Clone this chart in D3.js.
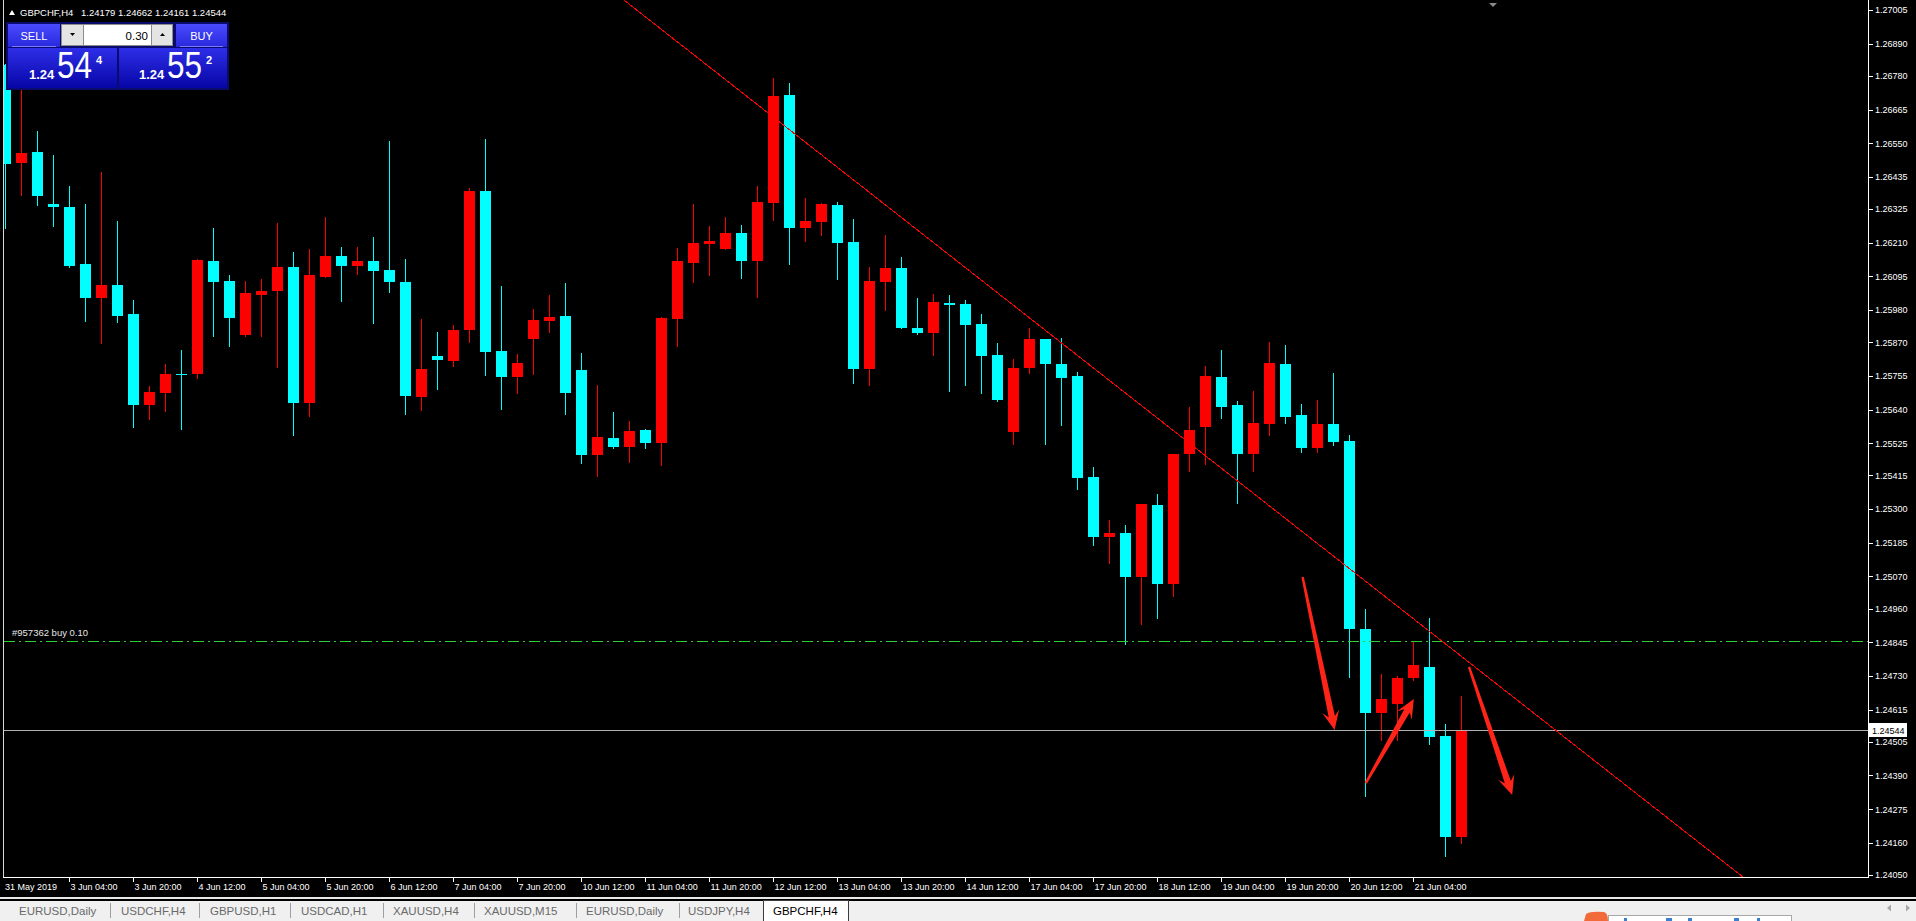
<!DOCTYPE html>
<html><head><meta charset="utf-8">
<script src="https://cdn.jsdelivr.net/npm/d3@7"></script>
<style>
html,body{margin:0;padding:0;background:#000;overflow:hidden}
svg{display:block}
text{font-family:"Liberation Sans",Arial,sans-serif}
</style></head><body>
<svg id="c" width="1916" height="921"></svg>
<script>
// ---------------- DATA ----------------
const symbolTitle = "GBPCHF,H4";
const times = [
"2019.05.31 12:00","2019.05.31 16:00","2019.05.31 20:00",
"2019.06.03 00:00","2019.06.03 04:00","2019.06.03 08:00","2019.06.03 12:00","2019.06.03 16:00","2019.06.03 20:00",
"2019.06.04 00:00","2019.06.04 04:00","2019.06.04 08:00","2019.06.04 12:00","2019.06.04 16:00","2019.06.04 20:00",
"2019.06.05 00:00","2019.06.05 04:00","2019.06.05 08:00","2019.06.05 12:00","2019.06.05 16:00","2019.06.05 20:00",
"2019.06.06 00:00","2019.06.06 04:00","2019.06.06 08:00","2019.06.06 12:00","2019.06.06 16:00","2019.06.06 20:00",
"2019.06.07 00:00","2019.06.07 04:00","2019.06.07 08:00","2019.06.07 12:00","2019.06.07 16:00","2019.06.07 20:00",
"2019.06.10 00:00","2019.06.10 04:00","2019.06.10 08:00","2019.06.10 12:00","2019.06.10 16:00","2019.06.10 20:00",
"2019.06.11 00:00","2019.06.11 04:00","2019.06.11 08:00","2019.06.11 12:00","2019.06.11 16:00","2019.06.11 20:00",
"2019.06.12 00:00","2019.06.12 04:00","2019.06.12 08:00","2019.06.12 12:00","2019.06.12 16:00","2019.06.12 20:00",
"2019.06.13 00:00","2019.06.13 04:00","2019.06.13 08:00","2019.06.13 12:00","2019.06.13 16:00","2019.06.13 20:00",
"2019.06.14 00:00","2019.06.14 04:00","2019.06.14 08:00","2019.06.14 12:00","2019.06.14 16:00","2019.06.14 20:00",
"2019.06.17 00:00","2019.06.17 04:00","2019.06.17 08:00","2019.06.17 12:00","2019.06.17 16:00","2019.06.17 20:00",
"2019.06.18 00:00","2019.06.18 04:00","2019.06.18 08:00","2019.06.18 12:00","2019.06.18 16:00","2019.06.18 20:00",
"2019.06.19 00:00","2019.06.19 04:00","2019.06.19 08:00","2019.06.19 12:00","2019.06.19 16:00","2019.06.19 20:00",
"2019.06.20 00:00","2019.06.20 04:00","2019.06.20 08:00","2019.06.20 12:00","2019.06.20 16:00","2019.06.20 20:00",
"2019.06.21 00:00","2019.06.21 04:00","2019.06.21 08:00","2019.06.21 12:00","2019.06.21 16:00"];

const opens = [1.26817,1.26482,1.26520,1.26342,1.26332,1.26137,1.26021,1.26066,1.25967,
1.25656,1.25697,1.25762,1.25762,1.26148,1.26079,1.25895,1.26031,1.26045,1.26127,1.25662,1.26093,
1.26165,1.26130,1.26148,1.26117,1.26076,1.25683,1.25823,1.25806,1.25912,1.26387,1.25840,1.25751,
1.25881,1.25943,1.25960,1.25775,1.25485,1.25543,1.25512,1.25570,1.25526,1.25949,1.26141,1.26206,
1.26189,1.26243,1.26148,1.26346,1.26715,1.26260,1.26281,1.26339,1.26212,1.25779,1.26076,1.26124,
1.25919,1.25902,1.26004,1.26001,1.25932,1.25826,1.25563,1.25782,1.25881,1.25796,1.25755,1.25410,
1.25205,1.25218,1.25068,1.25314,1.25044,1.25488,1.25581,1.25751,1.25656,1.25488,1.25591,1.25796,
1.25621,1.25509,1.25591,1.25533,1.24890,1.24603,1.24634,1.24723,1.24761,1.24525,1.24179];
const highs = [1.26820,1.26732,1.26592,1.26510,1.26404,1.26342,1.26452,1.26284,1.26014,
1.25721,1.25796,1.25844,1.26154,1.26260,1.26100,1.26079,1.26086,1.26277,1.26178,1.26189,1.26298,
1.26195,1.26195,1.26230,1.26557,1.26154,1.25949,1.25905,1.25929,1.26397,1.26564,1.26062,1.25830,
1.25984,1.26031,1.26072,1.25833,1.25724,1.25632,1.25601,1.25574,1.25956,1.26192,1.26342,1.26267,
1.26298,1.26271,1.26404,1.26773,1.26756,1.26363,1.26346,1.26349,1.26291,1.26127,1.26236,1.26161,
1.26021,1.26035,1.26031,1.26014,1.25967,1.25867,1.25813,1.25919,1.25881,1.25885,1.25768,1.25444,
1.25263,1.25246,1.25317,1.25352,1.25488,1.25649,1.25789,1.25844,1.25669,1.25703,1.25871,1.25861,
1.25659,1.25673,1.25765,1.25553,1.24959,1.24737,1.24730,1.24846,1.24928,1.24566,1.24662];
const lows = [1.26260,1.26373,1.26339,1.26267,1.26127,1.25943,1.25867,1.25939,1.25581,
1.25608,1.25635,1.25574,1.25748,1.25891,1.25857,1.25891,1.25891,1.25785,1.25553,1.25618,1.26093,
1.26011,1.26103,1.25936,1.26042,1.25625,1.25638,1.25710,1.25789,1.25871,1.25758,1.25642,1.25697,
1.25762,1.25905,1.25625,1.25458,1.25413,1.25509,1.25461,1.25509,1.25451,1.25857,1.26076,1.26100,
1.26189,1.26090,1.26025,1.26288,1.26137,1.26216,1.26236,1.26086,1.25731,1.25724,1.25980,1.25919,
1.25898,1.25826,1.25703,1.25724,1.25697,1.25669,1.25522,1.25765,1.25522,1.25587,1.25369,1.25177,
1.25116,1.24839,1.24908,1.24928,1.25003,1.25430,1.25454,1.25611,1.25321,1.25430,1.25553,1.25594,
1.25495,1.25495,1.25519,1.24726,1.24320,1.24511,1.24511,1.24716,1.24498,1.24115,1.24161];
const closes = [1.26479,1.26516,1.26370,1.26332,1.26130,1.26021,1.26066,1.25960,1.25656,
1.25700,1.25762,1.25758,1.26151,1.26076,1.25953,1.26038,1.26045,1.26127,1.25662,1.26100,1.26165,
1.26130,1.26148,1.26113,1.26076,1.25686,1.25779,1.25809,1.25912,1.26387,1.25837,1.25751,1.25799,
1.25946,1.25956,1.25697,1.25485,1.25546,1.25512,1.25567,1.25526,1.25953,1.26148,1.26209,1.26216,
1.26243,1.26148,1.26349,1.26711,1.26260,1.26284,1.26342,1.26209,1.25779,1.26079,1.26124,1.25919,
1.25902,1.26008,1.25997,1.25929,1.25823,1.25673,1.25782,1.25881,1.25796,1.25748,1.25406,1.25205,
1.25218,1.25068,1.25317,1.25044,1.25488,1.25570,1.25755,1.25649,1.25488,1.25594,1.25799,1.25615,
1.25509,1.25591,1.25529,1.24890,1.24603,1.24651,1.24723,1.24767,1.24521,1.24179,1.24544];

const priceTicks = [1.27005,1.26890,1.26780,1.26665,1.26550,1.26435,1.26325,1.26210,1.26095,1.25980,
1.25870,1.25755,1.25640,1.25525,1.25415,1.25300,1.25185,1.25070,1.24960,1.24845,1.24730,1.24615,
1.24505,1.24390,1.24275,1.24160,1.24050];
const timeTickKeys = ["2019.06.03 04:00","2019.06.03 20:00","2019.06.04 12:00","2019.06.05 04:00","2019.06.05 20:00",
"2019.06.06 12:00","2019.06.07 04:00","2019.06.07 20:00","2019.06.10 12:00","2019.06.11 04:00","2019.06.11 20:00",
"2019.06.12 12:00","2019.06.13 04:00","2019.06.13 20:00","2019.06.14 12:00","2019.06.17 04:00","2019.06.17 20:00",
"2019.06.18 12:00","2019.06.19 04:00","2019.06.19 20:00","2019.06.20 12:00","2019.06.21 04:00"];
const timeTickLabels = ["3 Jun 04:00","3 Jun 20:00","4 Jun 12:00","5 Jun 04:00","5 Jun 20:00","6 Jun 12:00",
"7 Jun 04:00","7 Jun 20:00","10 Jun 12:00","11 Jun 04:00","11 Jun 20:00","12 Jun 12:00","13 Jun 04:00",
"13 Jun 20:00","14 Jun 12:00","17 Jun 04:00","17 Jun 20:00","18 Jun 12:00","19 Jun 04:00","19 Jun 20:00",
"20 Jun 12:00","21 Jun 04:00"];
const firstDateLabel = "31 May 2019";

const bidPrice = 1.24544;
const askPrice = 1.24552;
const orderPrice = 1.24850;
const orderLabel = "#957362 buy 0.10";
const lotSize = "0.30";
const trendIdx = [48, 91];
const trendPrice = [1.26640, 1.24798];
const arrowStartIdx = [81.1, 85.05, 91.5];
const arrowStartPrice = [1.25068, 1.24364, 1.24761];
const arrowEndIdx = [83.1, 88.05, 94.2];
const arrowEndPrice = [1.24545, 1.24651, 1.24323];
const tabNames = ["EURUSD,Daily","USDCHF,H4","GBPUSD,H1","USDCAD,H1","XAUUSD,H4","XAUUSD,M15","EURUSD,Daily","USDJPY,H4","GBPCHF,H4"];
const activeTab = "GBPCHF,H4";

// ---------------- LAYOUT ----------------
const W = 1916, H = 921;
const plotL = 4, plotR = 1868, plotB = 877;
const tabX = [19,121,210,301,393,484,586,688,773];
const sepX = [110,199,290,383,474,576,679];

const svg = d3.select("#c");
svg.append("rect").attr("width", W).attr("height", H).attr("fill", "#000");
const defs = svg.append("defs");
defs.append("clipPath").attr("id","plotclip").append("rect")
  .attr("x", plotL).attr("y", 0).attr("width", plotR - plotL).attr("height", plotB);

const y = d3.scaleLinear().domain([1.24050, 1.27005]).range([875, 10]);
const xb = d3.scaleBand().domain(times).range([-3, -3 + times.length * 16]);
const cx = t => Math.round(xb(t) + xb.bandwidth() / 2);
const xi = d3.scaleLinear().domain([0, times.length - 1]).range([cx(times[0]), cx(times[times.length - 1])]);

const bars = times.map((t, i) => ({t, o: opens[i], h: highs[i], l: lows[i], c: closes[i]}));
const plot = svg.append("g").attr("clip-path", "url(#plotclip)").attr("shape-rendering", "crispEdges");
const col = d => d.c > d.o ? "#ff0000" : "#00ffff";

// wicks
plot.selectAll("rect.wick").data(bars).join("rect").attr("class","wick")
  .attr("x", d => cx(d.t)).attr("width", 1)
  .attr("y", d => Math.round(y(d.h)))
  .attr("height", d => Math.round(y(d.l)) - Math.round(y(d.h)) + 1)
  .attr("fill", col);
// bodies
plot.selectAll("rect.body").data(bars).join("rect").attr("class","body")
  .attr("x", d => cx(d.t) - 5).attr("width", 11)
  .attr("y", d => Math.round(y(Math.max(d.o, d.c))))
  .attr("height", d => Math.max(1, Math.round(y(Math.min(d.o, d.c))) - Math.round(y(Math.max(d.o, d.c)))))
  .attr("fill", col);

// order line (dash-dot green)
plot.append("line").attr("x1", plotL).attr("x2", plotR)
  .attr("y1", Math.round(y(orderPrice)) + 0.5).attr("y2", Math.round(y(orderPrice)) + 0.5)
  .attr("stroke", "#32cd32").attr("stroke-width", 1).attr("stroke-dasharray", "11,4,2,4");
svg.append("text").attr("x", 12).attr("y", Math.round(y(orderPrice)) - 5)
  .attr("fill", "#e6e6e6").attr("font-size", "9.5px").text(orderLabel);

// bid line
plot.append("line").attr("x1", plotL).attr("x2", plotR)
  .attr("y1", Math.round(y(bidPrice)) + 0.5).attr("y2", Math.round(y(bidPrice)) + 0.5)
  .attr("stroke", "#b0b0b0").attr("stroke-width", 1);

// trend line
{
  const x1 = xi(trendIdx[0]), y1 = y(trendPrice[0]);
  const x2 = xi(trendIdx[1]), y2 = y(trendPrice[1]);
  const m = (y2 - y1) / (x2 - x1);
  const xa = plotL, xbx = plotR;
  plot.append("line").attr("x1", xa).attr("y1", y1 + (xa - x1) * m)
    .attr("x2", xbx).attr("y2", y1 + (xbx - x1) * m)
    .attr("stroke", "#ff0000").attr("stroke-width", 1).attr("shape-rendering", "crispEdges");
}

// arrows
function arrowPoly(sx, sy, ex, ey) {
  const dx = ex - sx, dy = ey - sy, L = Math.hypot(dx, dy);
  const ux = dx / L, uy = dy / L, nx = -uy, ny = ux;
  const hl = 19, hw = 8.5, tw = 1.2, sw = 3.2;
  const bx = ex - ux * hl, by = ey - uy * hl;
  const nkx = ex - ux * hl * 0.72, nky = ey - uy * hl * 0.72;
  const pts = [
    [sx + nx * tw, sy + ny * tw],
    [nkx + nx * sw, nky + ny * sw],
    [bx + nx * hw, by + ny * hw],
    [ex, ey],
    [bx - nx * hw, by - ny * hw],
    [nkx - nx * sw, nky - ny * sw],
    [sx - nx * tw, sy - ny * tw]
  ];
  return pts.map(p => p.join(",")).join(" ");
}
const arrowG = svg.append("g");
arrowStartIdx.forEach((si, k) => {
  arrowG.append("polygon")
    .attr("points", arrowPoly(xi(si), y(arrowStartPrice[k]), xi(arrowEndIdx[k]), y(arrowEndPrice[k])))
    .attr("fill", "#ff2418");
});

// frame
const frame = svg.append("g").attr("shape-rendering", "crispEdges");
frame.append("rect").attr("x", 3).attr("y", 0).attr("width", 1).attr("height", plotB + 1).attr("fill", "#d8d8d8");
frame.append("rect").attr("x", 3).attr("y", plotB).attr("width", plotR - 3 + 1).attr("height", 1).attr("fill", "#fff");
frame.append("rect").attr("x", plotR).attr("y", 0).attr("width", 1).attr("height", plotB + 1).attr("fill", "#fff");

// price axis
const yAxis = d3.axisRight(y).tickValues(priceTicks).tickFormat(d3.format(".5f")).tickSize(4).tickPadding(2);
const yg = svg.append("g").attr("transform", `translate(${plotR + 1},0)`).call(yAxis);
yg.select(".domain").remove();
yg.selectAll("line").attr("stroke", "#fff").attr("shape-rendering", "crispEdges");
yg.selectAll("text").attr("fill", "#fff").attr("font-family", "Liberation Sans").attr("font-size", "9px");
// bid price label
{
  const by = Math.round(y(bidPrice));
  svg.append("rect").attr("x", plotR + 1).attr("y", by - 7).attr("width", 38).attr("height", 14).attr("fill", "#fff");
  svg.append("text").attr("x", plotR + 4).attr("y", by + 3.5).attr("fill", "#000").attr("font-size", "9px").text(d3.format(".5f")(bidPrice));
}

// time axis
const xAxis = d3.axisBottom(xb).tickValues(timeTickKeys)
  .tickFormat((d) => timeTickLabels[timeTickKeys.indexOf(d)]).tickSize(4).tickPadding(3);
const xg = svg.append("g").attr("transform", `translate(0,${plotB + 1})`).call(xAxis);
xg.select(".domain").remove();
xg.selectAll(".tick").attr("transform", d => `translate(${cx(d) + 0.5},0)`);
xg.selectAll("line").attr("stroke", "#fff").attr("shape-rendering", "crispEdges");
xg.selectAll("text").attr("fill", "#fff").attr("font-family", "Liberation Sans").attr("font-size", "9px")
  .attr("text-anchor", "start").attr("x", 1).attr("dy", null).attr("y", 11.5);
svg.append("text").attr("x", 5).attr("y", plotB + 12.5).attr("fill", "#fff").attr("font-size", "9px").text(firstDateLabel);

// shift marker
svg.append("path").attr("d", "M1489,3 L1497,3 L1493,7 Z").attr("fill", "#8a8a8a");

// ---------------- title & trade panel ----------------
svg.append("path").attr("d", "M9,15 L15,15 L12,10 Z").attr("fill", "#fff");
svg.append("text").attr("x", 20).attr("y", 16).attr("fill", "#fff").attr("font-size", "9.5px").text(symbolTitle);
svg.append("text").attr("x", 81).attr("y", 16).attr("fill", "#fff").attr("font-size", "9.5px")
  .text([1.24179, 1.24662, 1.24161, 1.24544].map(d3.format(".5f")).join(" "));

const grad = (id, c1, c2) => {
  const g = defs.append("linearGradient").attr("id", id).attr("x1", 0).attr("x2", 0).attr("y1", 0).attr("y2", 1);
  g.append("stop").attr("offset", "0%").attr("stop-color", c1);
  g.append("stop").attr("offset", "100%").attr("stop-color", c2);
};
grad("btn", "#4a4aff", "#2828dc");
grad("box", "#2e2ee8", "#0606a6");
const panel = svg.append("g").attr("shape-rendering", "crispEdges");
panel.append("rect").attr("x", 6).attr("y", 22).attr("width", 223).attr("height", 68).attr("fill", "#0b0b6e");
panel.append("rect").attr("x", 8).attr("y", 24).attr("width", 52).attr("height", 23).attr("fill", "url(#btn)");
panel.append("rect").attr("x", 176).attr("y", 24).attr("width", 51).attr("height", 23).attr("fill", "url(#btn)");
panel.append("rect").attr("x", 12).attr("y", 46).attr("width", 44).attr("height", 1).attr("fill", "#7c7cff");
panel.append("rect").attr("x", 180).attr("y", 46).attr("width", 43).attr("height", 1).attr("fill", "#7c7cff");
panel.append("rect").attr("x", 61).attr("y", 24).attr("width", 112).attr("height", 22).attr("fill", "#8c8c8c");
panel.append("rect").attr("x", 62).attr("y", 25).attr("width", 21).attr("height", 20).attr("fill", "#e4e4e4");
panel.append("rect").attr("x", 84).attr("y", 25).attr("width", 67).attr("height", 20).attr("fill", "#fff");
panel.append("rect").attr("x", 152).attr("y", 25).attr("width", 20).attr("height", 20).attr("fill", "#e4e4e4");
panel.append("rect").attr("x", 8).attr("y", 48).attr("width", 109).attr("height", 40).attr("fill", "url(#box)");
panel.append("rect").attr("x", 119).attr("y", 48).attr("width", 108).attr("height", 40).attr("fill", "url(#box)");
svg.append("path").attr("d", "M70,33 L75,33 L72.5,36 Z").attr("fill", "#000");
svg.append("path").attr("d", "M160,36 L165,36 L162.5,33 Z").attr("fill", "#000");
svg.append("text").attr("x", 34).attr("y", 39.5).attr("text-anchor", "middle").attr("fill", "#fff").attr("font-size", "11px").text("SELL");
svg.append("text").attr("x", 201.5).attr("y", 39.5).attr("text-anchor", "middle").attr("fill", "#fff").attr("font-size", "11px").text("BUY");
svg.append("text").attr("x", 148).attr("y", 39.5).attr("text-anchor", "end").attr("fill", "#000").attr("font-size", "11.5px").text(lotSize);

function priceBox(p, x0) {
  const s = d3.format(".5f")(p);
  const big = s.slice(0, 4), mid = s.slice(4, 6), last = s.slice(6);
  svg.append("text").attr("x", x0).attr("y", 79).attr("fill", "#fff").attr("font-size", "13px").attr("font-weight", "bold").text(big);
  svg.append("text").attr("x", x0 + 28).attr("y", 78).attr("fill", "#fff")
    .attr("font-family", "'Liberation Sans Narrow', Lato, 'Liberation Sans'")
    .attr("font-size", "37px").attr("textLength", 35).attr("lengthAdjust", "spacingAndGlyphs").text(mid);
  svg.append("text").attr("x", x0 + 67).attr("y", 64).attr("fill", "#fff").attr("font-size", "11px").attr("font-weight", "bold").text(last);
}
priceBox(bidPrice, 29);
priceBox(askPrice, 139);

// ---------------- tab bar ----------------
const tb = svg.append("g").attr("shape-rendering", "crispEdges");
tb.append("rect").attr("x", 0).attr("y", 897).attr("width", W).attr("height", 2).attr("fill", "#e8e8e8");
tb.append("rect").attr("x", 0).attr("y", 899).attr("width", W).attr("height", 2).attr("fill", "#000");
tb.append("rect").attr("x", 0).attr("y", 901).attr("width", W).attr("height", 20).attr("fill", "#f0f0f0");
sepX.forEach(sx => tb.append("rect").attr("x", sx).attr("y", 903).attr("width", 1).attr("height", 15).attr("fill", "#a0a0a0"));
tb.append("rect").attr("x", 763).attr("y", 900).attr("width", 85).attr("height", 21).attr("fill", "#fff").attr("stroke", "#3c3c3c").attr("stroke-width", 1);
tabNames.forEach((n, i) => {
  svg.append("text").attr("x", tabX[i]).attr("y", 915).attr("font-size", "11.5px")
    .attr("fill", n === activeTab && i === tabNames.length - 1 ? "#000" : "#6a6a6a").text(n);
});
// scroll arrows
svg.append("path").attr("d", "M1887,908 L1891,904.5 L1891,911.5 Z").attr("fill", "#a8a8a8");
svg.append("path").attr("d", "M1910,908 L1906,904.5 L1906,911.5 Z").attr("fill", "#a8a8a8");
// partially visible popup at bottom right
svg.append("path").attr("d", "M1584,921 L1586,914 Q1590,911 1604,912 Q1608,913 1608,921 Z").attr("fill", "#f26a3a");
svg.append("rect").attr("x", 1608.5).attr("y", 915.5).attr("width", 183).attr("height", 8).attr("fill", "#fff").attr("stroke", "#a8a8a8");
[[1624,3],[1666,6],[1688,4],[1734,5],[1757,3]].forEach(([bx, bw]) =>
  svg.append("rect").attr("x", bx).attr("y", 918).attr("width", bw).attr("height", 3).attr("fill", "#3a7fd0"));
</script>
</body></html>
